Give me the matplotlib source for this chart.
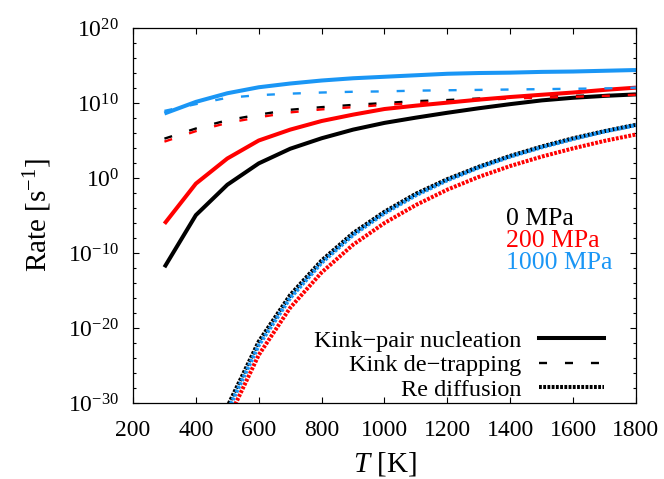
import numpy as np
import matplotlib
matplotlib.use("Agg")
import matplotlib.pyplot as plt
from matplotlib import ticker
from matplotlib.lines import Line2D

plt.rcParams['font.family'] = ['Liberation Serif', 'DejaVu Serif']
plt.rcParams['mathtext.fontset'] = 'custom'
plt.rcParams['mathtext.rm'] = 'Liberation Serif'
plt.rcParams['mathtext.it'] = 'Liberation Serif:italic'

# Temperature [K]
T = [300, 400, 500, 600, 700, 800, 900, 1000, 1100, 1200, 1300, 1400, 1500, 1600, 1700, 1800]

# log10 of rates [s^-1]
kink_0 = [-11.9, -4.95, -0.9, 1.95, 3.9, 5.3, 6.45, 7.35, 8.05, 8.7, 9.3, 9.85, 10.35, 10.7, 10.95, 11.15]
kink_200 = [-6.1, -0.75, 2.6, 5.0, 6.45, 7.6, 8.45, 9.2, 9.65, 10.05, 10.45, 10.8, 11.1, 11.4, 11.75, 12.05]
kink_1000 = [8.6, 10.15, 11.3, 12.1, 12.6, 13.0, 13.3, 13.5, 13.7, 13.9, 14.0, 14.05, 14.15, 14.2, 14.3, 14.4]

detrap_0 = [5.25, 6.6, 7.7, 8.45, 9.1, 9.45, 9.75, 10.0, 10.25, 10.4, 10.6, 10.75, 10.85, 10.95, 11.05, 11.15]
detrap_200 = [4.85, 6.25, 7.35, 8.1, 8.75, 9.15, 9.45, 9.75, 10.0, 10.2, 10.4, 10.6, 10.72, 10.83, 10.95, 11.1]
detrap_1000 = [8.95, 9.85, 10.7, 11.05, 11.25, 11.4, 11.5, 11.55, 11.65, 11.7, 11.75, 11.8, 11.85, 11.9, 11.95, 12.05]

diff_0 = [-65.5, -43.6, -30.5, -21.8, -15.6, -11.0, -7.35, -4.5, -2.1, -0.15, 1.5, 2.95, 4.2, 5.3, 6.25, 7.1]
diff_200 = [-67.7, -45.7, -32.4, -23.6, -17.3, -12.6, -8.9, -6.0, -3.6, -1.55, 0.15, 1.6, 2.85, 3.95, 4.95, 5.8]
diff_1000 = [-66.4, -44.35, -31.1, -22.3, -16.0, -11.3, -7.6, -4.7, -2.3, -0.3, 1.4, 2.85, 4.1, 5.2, 6.2, 7.05]

pressures = ['0 MPa', '200 MPa', '1000 MPa']
colors = ['#000000', '#ff0000', '#1a96f5']
kinks = [kink_0, kink_200, kink_1000]
detraps = [detrap_0, detrap_200, detrap_1000]
diffs = [diff_0, diff_200, diff_1000]
mech_labels = ['Kink\u2212pair nucleation', 'Kink de\u2212trapping', 'Re diffusion']

fig = plt.figure(figsize=(6.64, 4.79), dpi=100)
ax = fig.add_axes([0.2003, 0.1587, 0.7575, 0.7828])

Tarr = np.array(T)
lw_solid = 2.9
lw_dash = 1.7
lw_dot = 2.9
dash_pat = (3.4, 7.6)
dot_pat = (0.7, 0.35)

for c, k, d, r in zip(colors, kinks, detraps, diffs):
    ax.plot(Tarr, 10.0 ** np.array(k), color=c, lw=lw_solid, solid_capstyle='butt')
    ax.plot(Tarr, 10.0 ** np.array(d), color=c, lw=lw_dash, dashes=dash_pat, dash_capstyle='butt')
    ax.plot(Tarr, 10.0 ** np.array(r), color=c, lw=lw_dot, dashes=dot_pat, dash_capstyle='butt')

ax.set_yscale('log')
ax.set_xlim(200, 1800)
ax.set_ylim(1e-30, 1e20)
ax.xaxis.set_major_locator(ticker.MultipleLocator(200))
ax.yaxis.set_major_locator(ticker.FixedLocator([10.0 ** e for e in range(-30, 21, 10)]))
ax.yaxis.set_minor_locator(ticker.FixedLocator([10.0 ** e for e in range(-30, 21, 2) if e % 10 != 0]))
ax.yaxis.set_major_formatter(ticker.LogFormatterMathtext())
ax.yaxis.set_minor_formatter(ticker.NullFormatter())

ax.tick_params(which='both', direction='in', top=True, right=True, width=0.8, labelsize=17)
ax.tick_params(which='major', length=4.5)
ax.tick_params(which='minor', length=2.4)
ax.tick_params(axis='y', pad=10)
ax.tick_params(axis='x', pad=12)
for s in ax.spines.values():
    s.set_linewidth(0.9)

ax.set_xlabel('$T$ [K]', fontsize=21, labelpad=6.5)
ax.set_ylabel('Rate [s$^{-1}$]', fontsize=21, labelpad=10)

# pressure labels (coloured text)
ybase = [0.474, 0.415, 0.356]
for p, c, yb in zip(pressures, colors, ybase):
    ax.text(0.7416, yb, p, color=c, fontsize=18.5, transform=ax.transAxes, ha='left', va='baseline')

handles = [Line2D([], [], color='k', lw=lw_solid),
           Line2D([], [], color='k', lw=lw_dash, dashes=dash_pat),
           Line2D([], [], color='k', lw=lw_dot, dashes=dot_pat)]
leg = ax.legend(handles, mech_labels, loc='lower right', bbox_to_anchor=(0.9418, 0.0),
                frameon=False, fontsize=17.5, markerfirst=False, handlelength=2.7,
                handletextpad=0.7, labelspacing=0.1, borderpad=0.1, borderaxespad=0.0)

fig.savefig('out.png', dpi=100)
